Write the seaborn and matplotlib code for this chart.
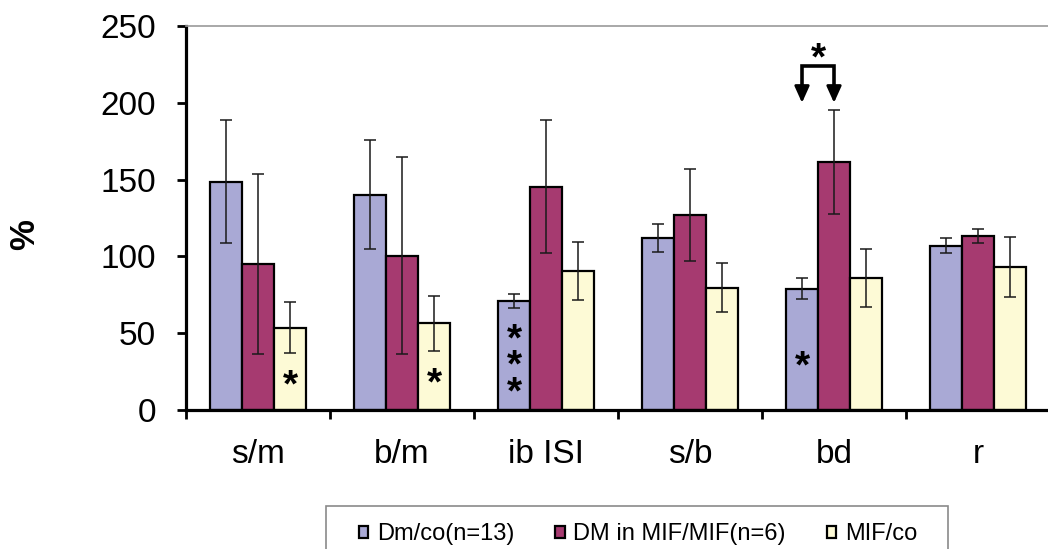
import numpy as np
import pandas as pd
import matplotlib
matplotlib.use("Agg")
import matplotlib.pyplot as plt
from matplotlib.patches import Rectangle
import seaborn as sns

# Measures (x axis) and groups (legend)
categories = ["s/m", "b/m", "ib ISI", "s/b", "bd", "r"]
groups = ["Dm/co(n=13)", "DM in MIF/MIF(n=6)", "MIF/co"]

# Mean values (%) per group
dm_co_mean = [148.5, 140.0, 71.0, 112.0, 79.0, 107.0]
dm_mif_mean = [95.0, 100.5, 145.5, 127.0, 161.5, 113.5]
mif_co_mean = [53.5, 56.5, 90.5, 79.5, 86.0, 93.0]

# Error bar half-lengths (%)
dm_co_err = [40.0, 35.5, 4.5, 9.0, 7.0, 5.0]
dm_mif_err = [58.5, 64.0, 43.0, 30.0, 34.0, 4.5]
mif_co_err = [16.5, 18.0, 19.0, 16.0, 19.0, 19.5]

yticks = [0, 50, 100, 150, 200, 250]

colors = ["#A9A9D5", "#A63A70", "#FDFAD6"]

means = [dm_co_mean, dm_mif_mean, mif_co_mean]
errs = [dm_co_err, dm_mif_err, mif_co_err]

df = pd.DataFrame({
    "measure": np.tile(categories, len(groups)),
    "group": np.repeat(groups, len(categories)),
    "value": np.concatenate(means),
})

sns.set_style("white")
plt.rcParams["font.family"] = ["Liberation Sans", "DejaVu Sans"]
plt.rcParams["text.color"] = "black"
plt.rcParams["xtick.color"] = "black"
plt.rcParams["ytick.color"] = "black"
plt.rcParams["xtick.labelcolor"] = "black"
plt.rcParams["ytick.labelcolor"] = "black"

fig = plt.figure(figsize=(10.48, 5.49), dpi=100)
W, H = 1048, 549
ax = fig.add_axes([186 / W, 1 - 410 / H, 864 / W, 384 / H])

sns.barplot(data=df, x="measure", y="value", hue="group", order=categories,
            hue_order=groups, palette=colors, saturation=1, width=2 / 3,
            gap=0, edgecolor="black", linewidth=1.6, errorbar=None, ax=ax,
            legend=True, zorder=2)

# Error bars centred on each bar
for cont, m, e in zip(ax.containers, means, errs):
    xs = [p.get_x() + p.get_width() / 2 for p in cont.patches]
    ax.errorbar(xs, m, yerr=e, fmt="none", ecolor="#1a1a1a",
                elinewidth=1.1, capsize=4.5, capthick=1.1, zorder=3)

ax.set_xlim(-0.5, 5.5)
ax.set_ylim(0, 250)
ax.set_yticks(yticks)
ax.set_yticklabels([str(v) for v in yticks])
ax.set_xlabel("")
ax.set_ylabel("")

# Category labels centred, tick marks on group boundaries
ax.set_xticks(np.arange(len(categories)))
ax.set_xticklabels(categories)
ax.set_xticks(np.arange(-0.5, len(categories), 1.0), minor=True)
ax.tick_params(axis="x", which="major", length=0, pad=21, labelsize=24,
               labelcolor="black")
ax.tick_params(axis="x", which="minor", length=6.5, width=2, direction="out",
               color="black", bottom=True)
ax.tick_params(axis="y", length=6.5, width=2, direction="out", pad=15,
               labelsize=24, color="black", labelcolor="black", left=True)

for side in ["left", "bottom"]:
    ax.spines[side].set_color("black")
    ax.spines[side].set_linewidth(2.3)
ax.spines["top"].set_color("#9a9a9a")
ax.spines["top"].set_linewidth(1.2)
ax.spines["right"].set_visible(False)

# Significance marks inside bars
bar_w = 2 / 9
star_kw = dict(ha="center", va="baseline", fontsize=28, fontweight="bold",
               color="black", textcoords="offset points", xytext=(0, -15.5),
               zorder=4)
for xc, yc in [(0 + bar_w, 23), (1 + bar_w, 24), (4 - bar_w, 35)]:
    ax.annotate("*", (xc, yc), **star_kw)
ax.annotate("*\n*\n*", (2 - bar_w, 34.5), ha="center", va="center",
            fontsize=28, fontweight="bold", color="black", linespacing=0.66,
            textcoords="offset points", xytext=(0, -7), zorder=4)

# Bracket with arrows between Dm/co and DM in MIF/MIF for bd
x1, x2 = 4 - bar_w, 4.0
y_top, y_tip = 224, 200
ax.plot([x1, x1, x2, x2], [y_tip + 9, y_top, y_top, y_tip + 9],
        color="black", lw=2.6, solid_joinstyle="miter", clip_on=False, zorder=4)
for xa in (x1, x2):
    ax.annotate("", xy=(xa, y_tip), xytext=(xa, y_tip + 9.5),
                arrowprops=dict(arrowstyle="-|>,head_length=1.0,head_width=0.45",
                                color="black", lw=2.0, shrinkA=0, shrinkB=0),
                zorder=4)
ax.annotate("*", ((x1 + x2) / 2, 236), **star_kw)

# Y axis label
fig.text(25 / W, 1 - 235 / H, "%", rotation=90, ha="center", va="center",
         fontsize=25, fontweight="bold", color="black")

# Legend below the plot
handles, labels = ax.get_legend_handles_labels()
ax.get_legend().remove()
fig.legend(handles, labels, loc="center left",
           bbox_to_anchor=(359 / W, 1 - 534 / H), ncol=3, frameon=False,
           fontsize=17, handlelength=0.4, handleheight=0.4,
           handletextpad=0.35, columnspacing=1.75, borderpad=0,
           borderaxespad=0, labelcolor="black")
fig.add_artist(Rectangle((326 / W, 1 - 562 / H), (948 - 326) / W, 56 / H,
                         transform=fig.transFigure, fill=False,
                         edgecolor="#8a8a8a", linewidth=1.2))

fig.savefig("out.png", dpi=100)
